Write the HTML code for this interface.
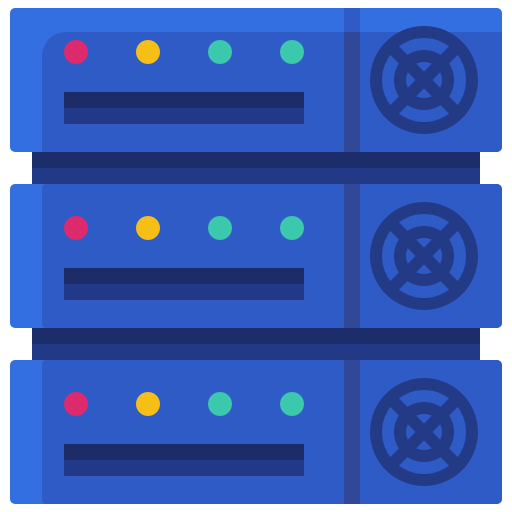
<html><body style="margin:0;background:#fff">
<svg width="512" height="512" xmlns="http://www.w3.org/2000/svg">
<defs>
<g id="fan">
<circle r="54" fill="#233a87"/><circle r="42" fill="#2f5bc7"/><circle r="30" fill="#233a87"/><circle r="18" fill="#2f5bc7"/>
<g stroke="#233a87" stroke-width="12"><line x1="-38" y1="-38" x2="38" y2="38"/><line x1="38" y1="-38" x2="-38" y2="38"/></g>
</g>
<g id="front">
<circle cx="76" cy="52" r="12" fill="#dd2a6e"/><circle cx="148" cy="52" r="12" fill="#f5bf16"/>
<circle cx="220" cy="52" r="12" fill="#3cc8ad"/><circle cx="292" cy="52" r="12" fill="#3cc8ad"/>
<rect x="64" y="92" width="240" height="16" fill="#1c2c69"/><rect x="64" y="108" width="240" height="16" fill="#223888"/>
<use href="#fan" x="424" y="80"/>
</g>
</defs>
<rect x="32" y="152" width="448" height="16" fill="#1d2d6b"/><rect x="32" y="168" width="448" height="16" fill="#223a85"/>
<rect x="32" y="328" width="448" height="16" fill="#1d2d6b"/><rect x="32" y="344" width="448" height="16" fill="#223a85"/>
<rect x="10" y="8" width="492" height="144" rx="5" fill="#336fe0"/>
<path d="M42 152 V56 A24 24 0 0 1 66 32 H502 V147 A5 5 0 0 1 497 152 Z" fill="#2f5bc7"/>
<rect x="344" y="8" width="16" height="24" fill="#2f5bc7"/><rect x="344" y="32" width="16" height="120" fill="#304897"/>
<use href="#front"/>
<g transform="translate(0,176)">
<rect x="10" y="8" width="492" height="144" rx="5" fill="#336fe0"/>
<path d="M46 8 H497 A5 5 0 0 1 502 13 V147 A5 5 0 0 1 497 152 H46 A4 4 0 0 1 42 148 V12 A4 4 0 0 1 46 8 Z" fill="#2f5bc7"/>
<rect x="344" y="8" width="16" height="144" fill="#304897"/>
<use href="#front"/>
</g>
<g transform="translate(0,352)">
<rect x="10" y="8" width="492" height="144" rx="5" fill="#336fe0"/>
<path d="M46 8 H497 A5 5 0 0 1 502 13 V147 A5 5 0 0 1 497 152 H46 A4 4 0 0 1 42 148 V12 A4 4 0 0 1 46 8 Z" fill="#2f5bc7"/>
<rect x="344" y="8" width="16" height="144" fill="#304897"/>
<use href="#front"/>
</g>
</svg>
</body></html>
